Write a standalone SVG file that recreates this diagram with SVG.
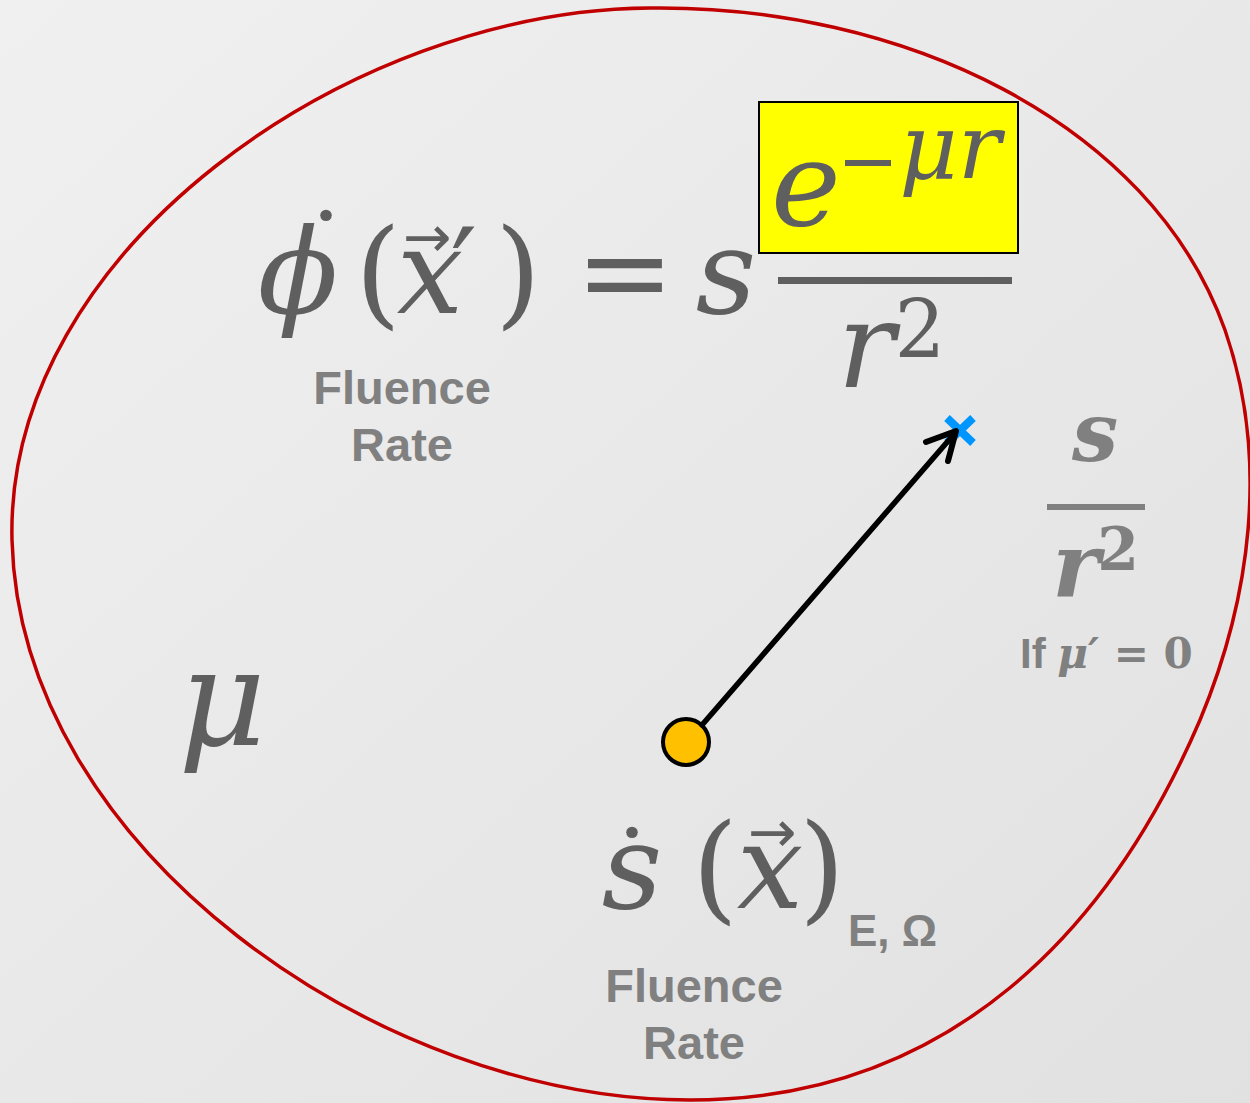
<svg xmlns="http://www.w3.org/2000/svg" width="1250" height="1103" viewBox="0 0 1250 1103">
<defs>
<linearGradient id="bg" x1="0" y1="0" x2="1" y2="1">
<stop offset="0" stop-color="#f0f0f0"/>
<stop offset="1" stop-color="#e1e1e1"/>
</linearGradient>
<style>
.m{font-family:"DejaVu Serif",serif;font-style:italic;fill:#5f5f5f}
.u{font-family:"DejaVu Serif",serif;fill:#5f5f5f}
.lab{font-family:"Liberation Sans",Arial,sans-serif;font-weight:bold;fill:#808080;text-anchor:middle}
.g{fill:#808080}
.arr{font-family:"DejaVu Sans",sans-serif;fill:#5f5f5f;text-anchor:middle}
</style>
</defs>
<rect width="1250" height="1103" fill="url(#bg)"/>
<g id="region">
<path d="M650 8 C900 5 1150 120 1225 330 C1270 460 1250 600 1200 720 C1110 930 950 1100 690 1100 C380 1100 20 850 12 540 C5 250 350 10 650 8 Z" fill="none" stroke="#c00000" stroke-width="3.5"/>
</g>
<g id="equation">
<text class="m" x="298" y="313" font-size="118" text-anchor="middle">ϕ</text>
<text class="u" x="326" y="286" font-size="100" text-anchor="middle">˙</text>
<text class="u" x="378" y="313" font-size="118" text-anchor="middle">(</text>
<text class="m" x="430" y="313" font-size="118" text-anchor="middle">x</text>
<text class="arr" x="427" y="257" font-size="58">→</text>
<text class="u" x="464" y="313" font-size="118" text-anchor="middle">′</text>
<text class="u" x="518" y="313" font-size="118" text-anchor="middle">)</text>
<text class="u" x="625" y="313" font-size="118" text-anchor="middle">=</text>
<text class="m" x="726" y="313" font-size="118" text-anchor="middle">s</text>
<rect x="759" y="102" width="259" height="151" fill="#ffff00" stroke="#000" stroke-width="2"/>
<text class="m" x="806" y="225" font-size="118" text-anchor="middle">e</text>
<rect x="845" y="160" width="46" height="6" fill="#5f5f5f"/>
<text class="m" x="950" y="178" font-size="90" text-anchor="middle">μr</text>
<rect x="778" y="277" width="234" height="7" fill="#5f5f5f"/>
<text class="m" x="866" y="387" font-size="120" text-anchor="middle">r</text>
<text class="u" x="920" y="357" font-size="80" text-anchor="middle">2</text>
<text class="lab" x="402" y="404" font-size="47">Fluence</text>
<text class="lab" x="402" y="461" font-size="47">Rate</text>
</g>
<g id="medium">
<text class="m" x="222" y="745" font-size="135" text-anchor="middle">μ</text>
</g>
<g id="target">
<path d="M947 418 L973 443 M973 418 L947 443" stroke="#0096ff" stroke-width="8"/>
</g>
<g id="ratio">
<text class="m g" x="1095" y="461" font-size="82" font-weight="bold" text-anchor="middle">s</text>
<rect x="1047" y="504" width="98" height="6" fill="#808080"/>
<text class="m g" x="1076" y="597" font-size="90" font-weight="bold" text-anchor="middle">r</text>
<text class="u g" x="1118" y="570" font-size="60" font-weight="bold" text-anchor="middle">2</text>
<text x="1020" y="668" font-size="42" font-family="Liberation Sans,Arial,sans-serif" font-weight="bold" fill="#808080">If <tspan font-family="DejaVu Serif,serif" font-style="italic">μ′</tspan><tspan font-family="DejaVu Serif,serif"> = 0</tspan></text>
</g>
<g id="source">
<circle cx="686" cy="742" r="23" fill="#ffc000" stroke="#000" stroke-width="4"/>
<text class="m" x="632" y="908" font-size="118" text-anchor="middle">s</text>
<text class="u" x="632" y="903" font-size="100" text-anchor="middle">˙</text>
<text class="u" x="715" y="908" font-size="118" text-anchor="middle">(</text>
<text class="m" x="770" y="908" font-size="118" text-anchor="middle">x</text>
<text class="arr" x="772" y="852" font-size="58">→</text>
<text class="u" x="822" y="908" font-size="118" text-anchor="middle">)</text>
<text x="848" y="946" font-size="44" font-family="Liberation Sans,Arial,sans-serif" font-weight="bold" fill="#808080">E, Ω</text>
<text class="lab" x="694" y="1002" font-size="47">Fluence</text>
<text class="lab" x="694" y="1059" font-size="47">Rate</text>
</g>
<g id="connectors">
<line x1="702" y1="725" x2="955" y2="433" stroke="#000" stroke-width="5.5" stroke-linecap="round"/>
<path d="M926 442 L956 431 L948 461" fill="none" stroke="#000" stroke-width="6" stroke-linecap="round" stroke-linejoin="round"/>
</g>
</svg>
